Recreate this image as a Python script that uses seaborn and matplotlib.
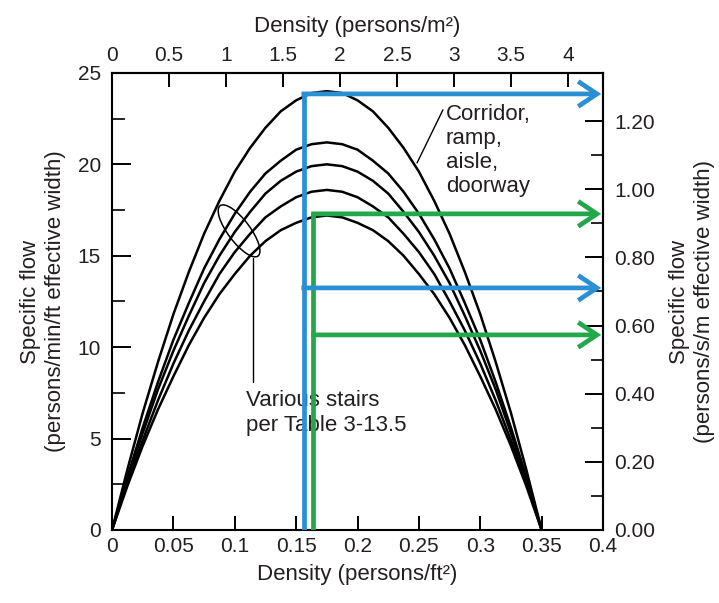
import numpy as np
import pandas as pd
import seaborn as sns
import matplotlib
matplotlib.use('Agg')
import matplotlib.pyplot as plt
from matplotlib.patches import Ellipse
import matplotlib.transforms as mtransforms

# ---------------- data ----------------
density_ft2 = [0.0, 0.0125, 0.025, 0.0375, 0.05, 0.0625, 0.075, 0.0875, 0.1, 0.1125,
               0.125, 0.1375, 0.15, 0.1625, 0.175, 0.1875, 0.2, 0.2125, 0.225, 0.2375,
               0.25, 0.2625, 0.275, 0.2875, 0.3, 0.3125, 0.325, 0.3375, 0.35]
corridor = [0, 3.3, 6.4, 9.2, 11.8, 14.1, 16.2, 18.0, 19.6, 20.9, 22.0, 22.9, 23.5, 23.9, 24.0,
            23.9, 23.5, 22.9, 22.0, 20.9, 19.6, 18.0, 16.2, 14.1, 11.8, 9.2, 6.4, 3.3, 0]
stair_a = [0, 2.9, 5.6, 8.1, 10.4, 12.4, 14.3, 15.9, 17.3, 18.5, 19.5, 20.2, 20.8, 21.1, 21.2,
           21.1, 20.8, 20.2, 19.5, 18.5, 17.3, 15.9, 14.3, 12.4, 10.4, 8.1, 5.6, 2.9, 0]
stair_b = [0, 2.8, 5.3, 7.7, 9.8, 11.7, 13.5, 15.0, 16.3, 17.4, 18.4, 19.1, 19.6, 19.9, 20.0,
           19.9, 19.6, 19.1, 18.4, 17.4, 16.3, 15.0, 13.5, 11.7, 9.8, 7.7, 5.3, 2.8, 0]
stair_c = [0, 2.6, 4.9, 7.1, 9.1, 10.9, 12.5, 14.0, 15.2, 16.2, 17.1, 17.7, 18.2, 18.5, 18.6,
           18.5, 18.2, 17.7, 17.1, 16.2, 15.2, 14.0, 12.5, 10.9, 9.1, 7.1, 4.9, 2.6, 0]
stair_d = [0, 2.4, 4.6, 6.6, 8.4, 10.1, 11.6, 12.9, 14.0, 15.0, 15.8, 16.4, 16.8, 17.1, 17.2,
           17.1, 16.8, 16.4, 15.8, 15.0, 14.0, 12.9, 11.6, 10.1, 8.4, 6.6, 4.6, 2.4, 0]
curve_names = ['corridor', 'stair_a', 'stair_b', 'stair_c', 'stair_d']

# construction lines (left-axis units)
blue_x = 0.156
blue_levels = [23.85, 13.24]
green_x = 0.164
green_levels = [17.29, 10.67]

bottom_ticks = [0, 0.05, 0.1, 0.15, 0.2, 0.25, 0.3, 0.35, 0.4]
bottom_labels = ['0', '0.05', '0.1', '0.15', '0.2', '0.25', '0.3', '0.35', '0.4']
top_ticks = [0, 0.5, 1, 1.5, 2, 2.5, 3, 3.5, 4]
top_labels = ['0', '0.5', '1', '1.5', '2', '2.5', '3', '3.5', '4']
left_ticks = [0, 5, 10, 15, 20, 25]
right_ticks = [0.0, 0.2, 0.4, 0.6, 0.8, 1.0, 1.2]
right_labels = ['0.00', '0.20', '0.40', '0.60', '0.80', '1.00', '1.20']

FT2_PER_M2 = 10.764
FLOW_FACTOR = 18.64  # persons/min/ft per persons/s/m as drawn

# ---------------- style ----------------
sns.set_style('ticks')
plt.rcParams['font.family'] = ['Liberation Sans', 'DejaVu Sans']
TXT = '#231f20'

fig = plt.figure(figsize=(7.19, 6.03), dpi=100)
ax = fig.add_axes([0.1558, 0.1211, 0.6829, 0.758])

rows = []
for name, vals in zip(curve_names, [corridor, stair_a, stair_b, stair_c, stair_d]):
    for d, f in zip(density_ft2, vals):
        rows.append((name, d, f))
df = pd.DataFrame(rows, columns=['curve', 'density', 'flow'])
sns.lineplot(data=df, x='density', y='flow', units='curve', estimator=None,
             color='black', lw=1.8, sort=False, ax=ax, zorder=2)

ax.set_xlim(0, 0.4)
ax.set_ylim(0, 25)
ax.set_xticks(bottom_ticks)
ax.set_xticklabels(bottom_labels)
ax.set_yticks(left_ticks)
ax.set_yticks([2.5, 7.5, 12.5, 17.5, 22.5], minor=True)
for s in ax.spines.values():
    s.set_linewidth(1.5)
    s.set_color('black')
ax.tick_params(axis='x', which='major', direction='in', length=10, width=1.4,
               labelsize=15, pad=5, colors='black', labelcolor=TXT)
ax.tick_params(axis='y', which='major', direction='in', length=14, width=1.4,
               labelsize=15, pad=8, colors='black', labelcolor=TXT)
ax.tick_params(axis='y', which='minor', direction='in', length=9, width=1.2, colors='black')
ax.set_xlabel('Density (persons/ft²)', fontsize=16, labelpad=6, color=TXT)
ax.set_ylabel('Specific flow\n(persons/min/ft effective width)', fontsize=16,
              labelpad=8, color=TXT, linespacing=1.25)

# top axis (persons/m2)
secx = ax.secondary_xaxis('top', functions=(lambda x: x * FT2_PER_M2,
                                             lambda m: m / FT2_PER_M2))
secx.set_xticks(top_ticks)
secx.set_xticklabels(top_labels)
secx.tick_params(direction='in', length=10, width=1.4, labelsize=15, pad=6,
                 colors='black', labelcolor=TXT)
secx.set_xlabel('Density (persons/m²)', fontsize=16, labelpad=10, color=TXT)
secx.spines['top'].set_linewidth(1.5)

# right axis (persons/s/m)
secy = ax.secondary_yaxis('right', functions=(lambda y: y / FLOW_FACTOR,
                                               lambda v: v * FLOW_FACTOR))
secy.set_yticks(right_ticks)
secy.set_yticklabels(right_labels)
secy.set_yticks([0.1, 0.3, 0.5, 0.7, 0.9, 1.1], minor=True)
secy.tick_params(which='major', direction='in', length=13, width=1.4, labelsize=15,
                 pad=8, colors='black', labelcolor=TXT)
secy.tick_params(which='minor', direction='in', length=8.5, width=1.2, colors='black')
secy.set_ylabel('Specific flow\n(persons/s/m effective width)', fontsize=16,
                labelpad=10, color=TXT, linespacing=1.25)
secy.spines['right'].set_linewidth(1.5)

# construction lines with arrows
blue = '#2b8fd4'
green = '#22a84a'
LW = 3.4
half_w = 0.0017
for x0, levels, col in [(green_x, green_levels, green), (blue_x, blue_levels, blue)]:
    ax.plot([x0, x0], [0, max(levels) + 0.12], color=col, lw=LW,
            solid_capstyle='butt', zorder=4)
    for lev in levels:
        ax.annotate('', xy=(0.3985, lev), xytext=(x0 - half_w, lev),
                    arrowprops=dict(arrowstyle='->,head_length=1.35,head_width=0.9',
                                    lw=LW, color=col, shrinkA=0, shrinkB=0,
                                    joinstyle='miter', capstyle='butt'),
                    zorder=4, annotation_clip=False)

# annotations
ax.text(0.272, 20.76, 'Corridor,\nramp,\naisle,\ndoorway', fontsize=16,
        ha='left', va='center', linespacing=1.2, color=TXT, zorder=3)
ax.plot([0.2696, 0.2485], [22.98, 20.08], color='black', lw=1.0, zorder=3)

ax.text(0.109, 6.4, 'Various stairs\nper Table 3-13.5', fontsize=16,
        ha='left', va='center', linespacing=1.2, color=TXT, zorder=3)
ax.plot([0.1149, 0.1149], [14.88, 8.1], color='black', lw=1.0, zorder=3)
ell_tr = fig.dpi_scale_trans + mtransforms.ScaledTranslation(0.1035, 16.36, ax.transData)
ax.add_patch(Ellipse((0, 0), width=0.63, height=0.22, angle=-53, fill=False,
                     lw=1.1, color='black', transform=ell_tr, zorder=3))

fig.savefig('out.png', dpi=100, facecolor='white')
